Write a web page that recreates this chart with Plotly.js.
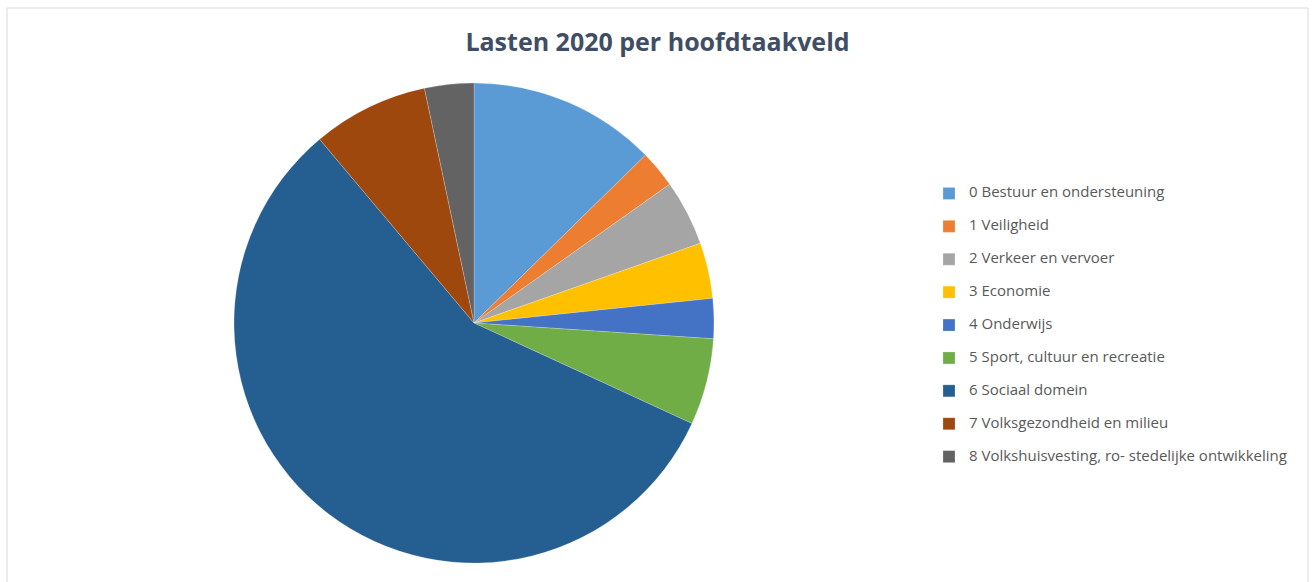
<!DOCTYPE html>
<html>
<head>
<meta charset="utf-8">
<script src="https://cdn.plot.ly/plotly-3.0.1.min.js"></script>
<style>html,body{margin:0;padding:0;background:#fff;}#chart{width:1315px;height:582px;}</style>
</head>
<body>
<div id="chart"></div>
<script>
const categories = [
  "0 Bestuur en ondersteuning",
  "1 Veiligheid",
  "2 Verkeer en vervoer",
  "3 Economie",
  "4 Onderwijs",
  "5 Sport, cultuur en recreatie",
  "6 Sociaal domein",
  "7 Volksgezondheid en milieu",
  "8 Volkshuisvesting, ro- stedelijke ontwikkeling"
];
const shares = [12.67, 2.51, 4.43, 3.75, 2.69, 5.83, 57.0, 7.81, 3.31];
const sliceColors = ["#5B9BD5", "#ED7D31", "#A5A5A5", "#FFC000", "#4472C4", "#70AD47", "#255E91", "#9E480E", "#636363"];

const W = 1315, H = 582;
const cx = 474, cy = 323, r = 240;

const trace = {
  type: "pie",
  labels: categories.map(c => '<span style="font-size:15px;baseline-shift:5px">' + c + '</span>'),
  values: shares,
  sort: false,
  direction: "clockwise",
  rotation: 0,
  textinfo: "none",
  hoverinfo: "label+percent",
  marker: { colors: sliceColors, line: { color: "rgba(255,255,255,0.35)", width: 0.6 } },
  domain: { x: [(cx - r) / W, (cx + r) / W], y: [1 - (cy + r) / H, 1 - (cy - r) / H] }
};

const layout = {
  width: W, height: H,
  margin: { l: 0, r: 0, t: 0, b: 0 },
  paper_bgcolor: "#ffffff",
  title: {
    text: "<b>Lasten 2020 per hoofdtaakveld</b>",
    font: { family: "Open Sans, sans-serif", size: 25, color: "#3F4E66" },
    x: 0.5, xanchor: "center", y: 1 - 42 / H, yanchor: "middle"
  },
  showlegend: true,
  legend: {
    x: 929 / W, xanchor: "left",
    y: 1 - 172 / H, yanchor: "top",
    font: { family: "Open Sans, sans-serif", size: 23, color: "#595959" },
    itemwidth: 30,
    bgcolor: "rgba(0,0,0,0)"
  },
  shapes: [{
    type: "rect", xref: "paper", yref: "paper",
    x0: 7 / W, x1: 1308 / W, y0: -0.05, y1: 1 - 8 / H,
    line: { color: "#D9D9D9", width: 1 }, fillcolor: "rgba(0,0,0,0)"
  }]
};

Plotly.newPlot("chart", [trace], layout, { displayModeBar: false, staticPlot: true });
</script>
</body>
</html>
